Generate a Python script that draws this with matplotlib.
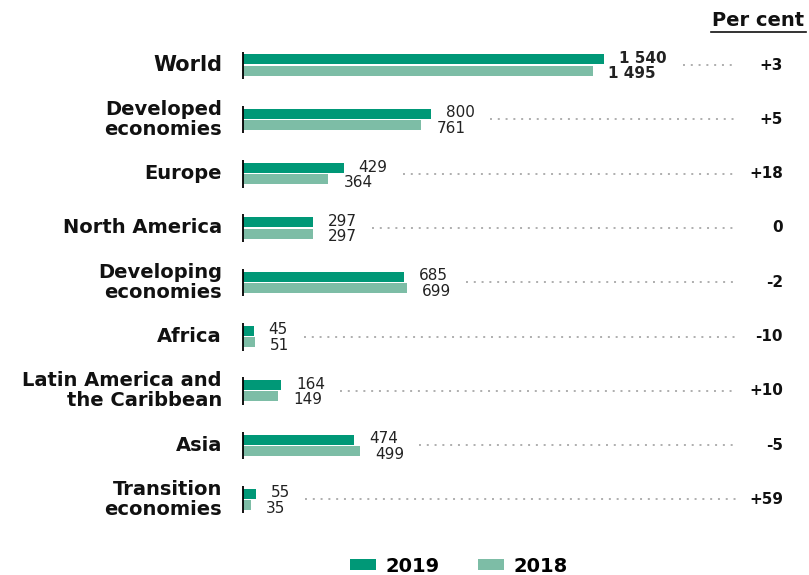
import matplotlib
matplotlib.use("Agg")
from matplotlib import pyplot as plt
from matplotlib.patches import Patch

regions = ["World", "Developed\neconomies", "Europe", "North America",
           "Developing\neconomies", "Africa", "Latin America and\nthe Caribbean",
           "Asia", "Transition\neconomies"]
v2019 = [1540, 800, 429, 297, 685, 45, 164, 474, 55]
v2018 = [1495, 761, 364, 297, 699, 51, 149, 499, 35]
change = ["+3", "+5", "+18", "0", "-2", "-10", "+10", "-5", "+59"]

c2019 = "#009877"
c2018 = "#7dbda6"

plt.rcParams['font.family'] = ['DejaVu Sans']

W, H = 809, 575
fig = plt.figure(figsize=(W / 100, H / 100), dpi=100)
ax = fig.add_axes([0, 0, 1, 1])

# pixel geometry: zero line at x=243, 0.2344 px per unit, rows every 54.3 px
x0, ppu = 243, 0.2344
row0, step = 65, 54.3
ax.set_xlim(-x0 / ppu, (W - x0) / ppu)
ax.set_ylim((H - row0) / step, -row0 / step)
ax.axis("off")


def px(n):
    return n / ppu


def fmt(v):
    return f"{v:,}".replace(",", " ")


idx = list(range(len(regions)))
off = 5.6 / step
bh = 10 / step
ax.barh([i - off for i in idx], v2019, height=bh, color=c2019)
ax.barh([i + off for i in idx], v2018, height=bh, color=c2018)
ax.vlines([0] * len(idx), [i - 13.5 / step for i in idx], [i + 14 / step for i in idx],
          color="black", lw=1.3)

for i in idx:
    w = "bold" if i == 0 else "normal"
    ax.text(v2019[i] + px(15), i - 6.5 / step, fmt(v2019[i]), ha="left", va="center",
            fontsize=11, fontweight=w, color="#222")
    ax.text(v2018[i] + px(15), i + 9 / step, fmt(v2018[i]), ha="left", va="center",
            fontsize=11, fontweight=w, color="#222")
    lab_len = max(len(fmt(v2019[i])), len(fmt(v2018[i])))
    start = max(v2019[i], v2018[i]) + px(14 + 10 * lab_len + 15)
    ax.plot([start, px(736 - x0)], [i, i], color="#999999", lw=1.1,
            linestyle=(0, (1.3, 3.8)))
    ax.text(px(783 - x0), i, change[i], ha="right", va="center",
            fontsize=11, fontweight="bold", color="#111")
    ax.text(px(222 - x0), i, regions[i], ha="right", va="center",
            fontsize=15 if i == 0 else 14, linespacing=1.08,
            color="#111", fontweight="bold")

# column header
fig.text(804 / W, 1 - 20 / H, "Per cent", ha="right", va="center",
         fontsize=14, fontweight="bold", color="#111")
fig.add_artist(plt.Line2D([711 / W, 806 / W], [1 - 32 / H, 1 - 32 / H],
                          color="#111", lw=1.2))

handles = [Patch(facecolor=c2019, label="2019"), Patch(facecolor=c2018, label="2018")]
fig.legend(handles=handles, loc="center", bbox_to_anchor=(459 / W, 1 - 566 / H),
           ncol=2, frameon=False, handlelength=1.3, handleheight=0.45,
           columnspacing=2.0, handletextpad=0.5,
           prop={"size": 14, "weight": "bold"})

fig.savefig("out.png", dpi=100)
